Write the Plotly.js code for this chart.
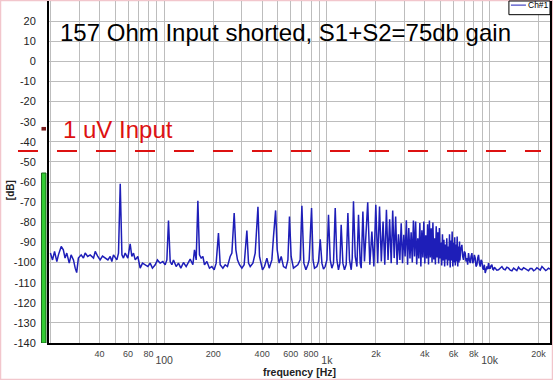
<!DOCTYPE html>
<html>
<head>
<meta charset="utf-8">
<script src="https://cdn.plot.ly/plotly-3.0.1.min.js"></script>
<style>html,body{margin:0;padding:0;background:#fff;}#chart{width:553px;height:380px;}</style>
</head>
<body>
<div id="chart"></div>
<script>
// ---- Data ----
const freqHz = [
  20.0,20.6,21.2,21.9,22.4,23.3,24.0,24.6,25.2,26.1,26.8,27.7,28.4,29.0,29.7,30.9,31.9,32.7,33.9,35.1,
  36.8,37.7,39.1,40.4,41.8,43.4,45.1,46.6,47.7,48.8,50.0,51.2,52.4,53.7,55.0,56.2,57.6,59.8,61.8,63.3,
  64.8,66.4,68.9,71.2,73.6,76.4,79.4,82.0,84.7,88.1,
  90.9,94.5,98.2,101.4,103.9,106.3,108.9,111.5,114.1,118.5,122.4,126.6,131.4,136.5,141.1,144.5,150.1,153.6,157.3,161.1,
  164.8,168.8,173.0,176.9,183.0,189.8,196.4,202.9,208.7,215.6,220.9,229.5,237.1,244.9,254.4,260.7,269.3,275.9,282.2,290.3,
  300.3,310.2,322.3,329.8,337.9,351.0,362.6,377.0,385.4,
  402,413.6,427.8,442,459,469.7,484,495,509,524,541,560,576,589,603,623,645,663,685,702,
  722,743,764,778,805,822,839,868,888,910,932,953,976,1000,1023,1048,1073,1098,1125,1152,
  1178,1202,1224,1254,1283,1314,1346,1377,1411,1431,1457,1493,1529,1564,1602,1625,1664,1702,
  1782,1836,1890,1944,1998,2052,2106,2160,2214,2268,2322,2376,2430,2484,2538,2592,2646,2700,2754,2808,
  2862,2916,2970,3024,3078,3132,3186,3240,3294,3348,3402,3456,3510,3564,3618,3672,3726,3780,3834,3888,
  3942,3996,4050,4104,4158,4212,4266,4320,4374,4428,4482,4536,4590,4644,4698,4752,4806,4860,4914,4968,
  5022,5076,5130,5184,5238,5292,5346,5400,5454,5508,5562,5616,5670,5724,5778,5832,5886,5940,5994,6048,
  6102,6156,6210,6264,6318,6372,6426,6480,6534,6570,
  6640,6754,6830,6910,6990,7079,7160,7252,7330,7419,7510,7600,7690,7785,7870,7964,8060,8158,8250,8356,
  8450,8548,8650,8755,8860,8968,9070,9173,9280,9397,9510,9625,9735,9845,9960,10085,10200,10330,10450,10568,
  10700,10825,11080,11341,11620,11900,12180,12470,12770,13070,13390,13710,14040,14370,14700,15050,15420,15790,16170,16550,
  16940,17340,17760,18200,18630,19070,19520,19980,20470,20970,21350,21750,22120,22500,23000,23580
];
const levelDb = [
  -95.3,-98.7,-94.5,-99.5,-96.2,-92.0,-93.7,-97.8,-95.3,-100.3,-96.2,-98.7,-102.8,-105.0,-97.8,-96.2,-97.8,-95.3,-97.0,-96.2,
  -97.8,-94.5,-97.0,-98.7,-96.8,-97.8,-98.7,-97.0,-99.5,-96.2,-97.8,-98.7,-95.3,-60.8,-96.2,-97.8,-95.3,-97.8,-90.7,-97.0,
  -95.3,-98.7,-97.0,-102.8,-100.3,-101.1,-102.0,-100.3,-102.8,-101.1,
  -98.7,-100.3,-99.5,-101.1,-98.7,-79.1,-99.5,-101.1,-98.7,-102.0,-100.3,-102.8,-100.0,-102.0,-99.5,-98.3,-101.1,-93.7,-98.7,-69.3,
  -96.2,-97.8,-97.0,-101.1,-99.5,-102.8,-102.0,-103.6,-100.3,-85.4,-101.1,-102.8,-101.1,-102.0,-97.0,-95.3,-75.4,-93.7,-98.7,-101.1,
  -102.8,-101.1,-84.1,-100.3,-102.0,-100.3,-95.3,-72.3,-97.0,
  -103.6,-102.0,-97.8,-102.8,-98.7,-87.1,-74.1,-93.7,-100.3,-97.0,-102.0,-102.8,-98.7,-77.1,-97.0,-102.8,-102.0,-101.1,-98.7,-71.8,
  -100.3,-103.6,-101.1,-98.7,-72.9,-98.7,-102.8,-102.0,-99.5,-88.4,-100.3,-103.3,-102.0,-98.7,-76.3,-98.7,-102.8,-100.3,-72.9,-98.7,
  -103.6,-100.3,-81.2,-100.3,-103.6,-101.1,-75.4,-98.7,-103.6,-97.8,-69.6,-97.0,-102.0,-76.3,-100.3,-102.8,-74.6,-99.5,
  -70.0,-101.1,-84.6,-102.0,-71.3,-100.3,-72.1,-99.5,-79.6,-101.1,-73.8,-98.7,-78.5,-100.3,-74.1,-97.8,-77.1,-101.1,-86.0,-98.7,
  -80.5,-100.3,-86.2,-97.0,-79.0,-101.1,-82.9,-98.0,-85.0,-100.0,-79.1,-97.0,-79.6,-101.0,-88.0,-98.0,-80.4,-102.0,-84.0,-97.5,
  -79.6,-100.5,-86.5,-98.0,-81.0,-101.0,-79.1,-97.5,-83.0,-100.0,-80.1,-98.5,-88.0,-101.0,-82.0,-97.5,-85.0,-100.5,-82.9,-98.0,
  -90.0,-101.5,-86.0,-99.0,-88.7,-102.0,-91.0,-98.5,-87.9,-101.5,-92.0,-99.0,-86.0,-102.5,-89.0,-99.0,-84.6,-102.0,-90.0,-100.0,
  -87.5,-101.5,-91.0,-99.5,-87.1,-102.0,-92.0,-100.0,-89.5,-99.0,
  -93.7,-91.2,-97.0,-98.7,-94.5,-95.3,-99.5,-97.8,-101.1,-95.3,-98.7,-100.3,-97.0,-95.3,-100.3,-99.5,-96.2,-97.8,-102.0,-101.1,
  -97.8,-96.2,-100.3,-102.0,-98.7,-99.5,-102.8,-103.6,-101.1,-105.2,-103.6,-102.0,-103.3,-100.3,-102.8,-102.8,-101.6,-101.1,-103.3,-103.6,
  -102.3,-102.8,-103.8,-103.6,-102.6,-102.0,-103.3,-103.6,-102.3,-102.8,-103.8,-104.1,-102.8,-103.3,-104.0,-102.3,-103.3,-103.6,-102.6,-103.0,
  -103.8,-104.1,-103.0,-103.0,-104.1,-103.6,-102.6,-103.3,-103.8,-102.0,-102.6,-103.0,-104.0,-103.6,-102.8,-103.3
];
const seriesName = 'Ch#1';
const yTickVals = [-140,-130,-120,-110,-100,-90,-80,-70,-60,-50,-40,-30,-20,-10,0,10,20];
const yTickLabels = ['-140','-130','-120','-110','-100','-90','-80','-70','-60','-50','-40','-30','-20','-10','0','10','20'];
const xGridVals = [20,30,40,50,60,70,80,90,100,200,300,400,500,600,700,800,900,1000,2000,3000,4000,5000,6000,7000,8000,9000,10000,20000];
const xGridLabels = ['','','40','','60','','80','','','200','','400','','600','','800','','','2k','','4k','','6k','','8k','','','20k'];
const xMajorVals = [100,1000,10000];
const xMajorLabels = ['100','1k','10k'];
const titleText = '157 Ohm Input shorted, S1+S2=75db gain';
const refLabel = '1 uV Input';
const refLevelDb = -44.5;
const meterLevelDb = -55.5;
const meterPeakDb = [-34.4, -32.6];

const FONT = 'Liberation Sans, Arial, sans-serif';
const RED = '#dd1111';
const BLUE = '#1e1eb8';

const trace = {
  x: freqHz, y: levelDb, type: 'scatter', mode: 'lines', name: seriesName,
  line: {color: BLUE, width: 1.5}, hoverinfo: 'skip'
};
// invisible helper trace on the overlay axis so its tick labels render
const traceMajor = {
  x: [freqHz[0]], y: [levelDb[0]], xaxis: 'x2', yaxis: 'y', type: 'scatter', mode: 'lines',
  line: {width: 0}, showlegend: false, hoverinfo: 'skip'
};

const xr = [Math.log10(19.6), Math.log10(23500)];

const layout = {
  width: 553, height: 380,
  margin: {l: 49, r: 3, t: 1, b: 37},
  paper_bgcolor: '#ffffff', plot_bgcolor: '#ffffff',
  showlegend: false,
  font: {family: FONT, color: '#222'},
  title: {
    text: titleText, font: {family: FONT, size: 24, color: '#000'},
    xref: 'container', x: 60/553, xanchor: 'left',
    yref: 'container', y: 1 - 33/380, yanchor: 'middle'
  },
  xaxis: {
    type: 'log', range: xr, tickmode: 'array', tickvals: xGridVals, ticktext: xGridLabels,
    showgrid: true, gridcolor: '#bdbdbd', gridwidth: 1, zeroline: false,
    showline: true, linecolor: '#000', linewidth: 2, mirror: false, ticks: '',
    tickfont: {family: FONT, size: 9, color: '#444'}, ticklabelstandoff: 1,
    title: {text: '<b>frequency [Hz]</b>', font: {family: FONT, size: 10.5, color: '#222'}, standoff: 11},
    automargin: false
  },
  xaxis2: {
    type: 'log', range: xr, overlaying: 'x', anchor: 'y', side: 'bottom',
    tickmode: 'array', tickvals: xMajorVals, ticktext: xMajorLabels,
    showgrid: false, zeroline: false, showline: false, ticks: '',
    tickfont: {family: FONT, size: 10.5, color: '#444'}, ticklabelstandoff: 9,
    automargin: false
  },
  yaxis: {
    range: [-140, 30], tickmode: 'array', tickvals: yTickVals, ticktext: yTickLabels,
    showgrid: true, gridcolor: '#bdbdbd', gridwidth: 1, zeroline: false,
    showline: true, linecolor: '#000', linewidth: 2, mirror: true, ticks: '',
    tickfont: {family: FONT, size: 11, color: '#222'}, ticklabelstandoff: 9,
    automargin: false
  },
  shapes: [
    {type: 'rect', xref: 'paper', yref: 'paper', x0: -0.0968, x1: 1.005, y0: -0.1067, y1: 1.0015,
     line: {color: '#f2c6cc', width: 1.5}, fillcolor: 'rgba(0,0,0,0)', layer: 'below'},
    {type: 'line', xref: 'paper', yref: 'y', x0: -0.0619, x1: 0.982, y0: refLevelDb, y1: refLevelDb,
     line: {color: RED, width: 2, dash: '20px,19px'}},
    {type: 'rect', xref: 'paper', yref: 'y', x0: -0.015, x1: -0.006, y0: -140, y1: meterLevelDb,
     fillcolor: '#33cc33', line: {color: '#1a6a1a', width: 1}},
    {type: 'rect', xref: 'paper', yref: 'y', x0: -0.015, x1: -0.006, y0: meterPeakDb[0], y1: meterPeakDb[1],
     fillcolor: '#7a1c1c', line: {width: 0}},
    {type: 'rect', xref: 'paper', yref: 'paper', x0: 0.918, x1: 1.0, y0: 0.960, y1: 1.0,
     fillcolor: '#ffffff', line: {color: '#000', width: 1}},
    {type: 'line', xref: 'paper', yref: 'paper', x0: 0.922, x1: 0.952, y0: 0.988, y1: 0.988,
     line: {color: BLUE, width: 1}}
  ],
  annotations: [
    {text: refLabel, xref: 'paper', yref: 'y', x: 0.024, y: -34, xanchor: 'left', yanchor: 'middle',
     showarrow: false, font: {family: FONT, size: 24, color: RED}},
    {text: seriesName, xref: 'paper', yref: 'paper', x: 0.952, y: 0.988, xanchor: 'left', yanchor: 'middle',
     showarrow: false, font: {family: FONT, size: 8.5, color: '#000'}},
    {text: '<b>[dB]</b>', xref: 'paper', yref: 'paper', x: -0.0778, y: 0.447, xanchor: 'center', yanchor: 'middle',
     textangle: -90, showarrow: false, font: {family: FONT, size: 10, color: '#222'}}
  ]
};

Plotly.newPlot('chart', [trace, traceMajor], layout, {staticPlot: true, displayModeBar: false});
</script>
</body>
</html>
